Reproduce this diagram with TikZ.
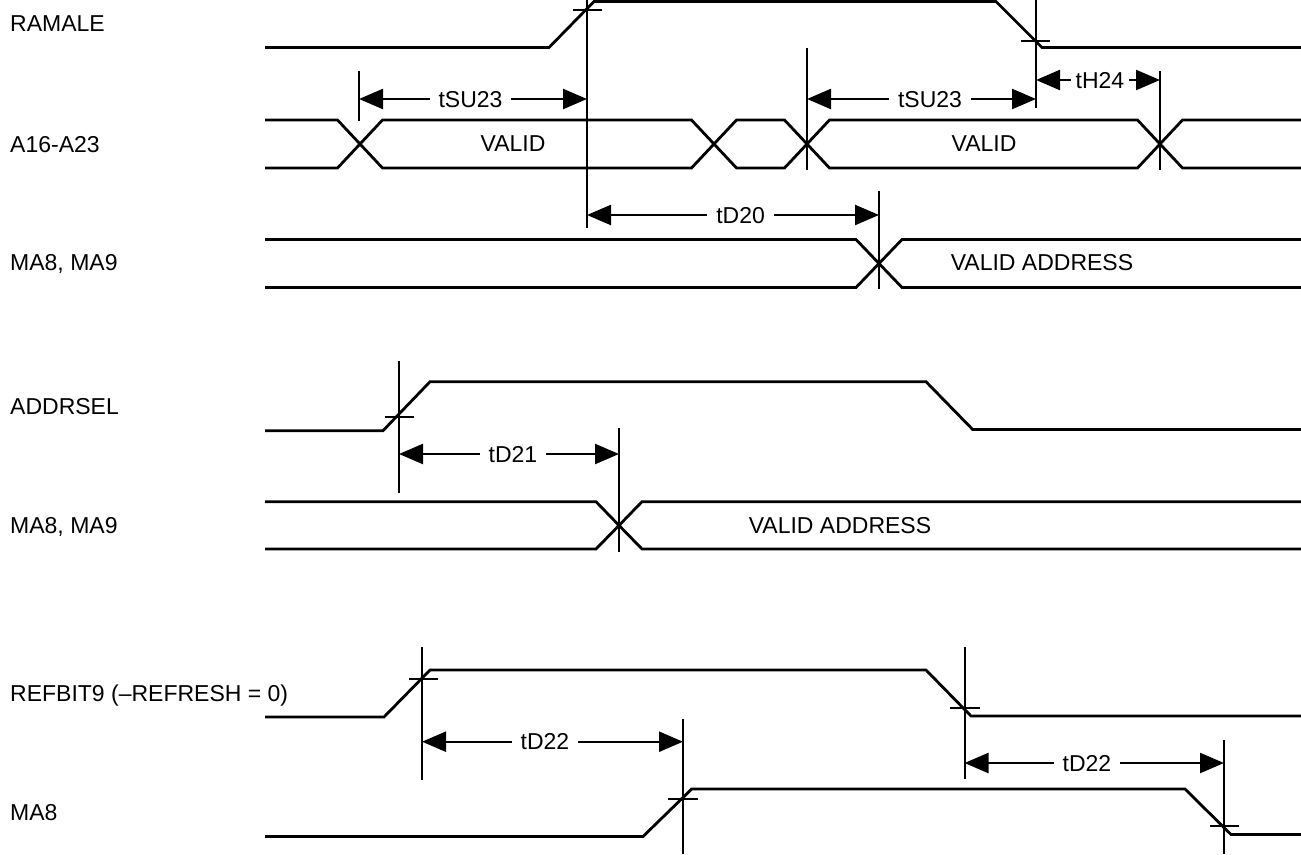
\documentclass[tikz,border=0pt]{standalone}
\usepackage{fontspec}
\setmainfont{Liberation Sans}
\usetikzlibrary{arrows.meta}
\begin{document}
\begin{tikzpicture}[x=1pt,y=-1pt,
  sig/.style={line width=2.8pt, line join=miter},
  vline/.style={line width=2pt},
  tickline/.style={line width=2pt},
  dimarr/.style={line width=2.4pt, {Triangle[length=24pt,width=20pt]}-{Triangle[length=24pt,width=20pt]}},
  lbl/.style={font=\fontsize{23}{27}\selectfont, text height=16.5pt, text depth=0pt, inner sep=0pt},
  gaplbl/.style={lbl, fill=white, inner xsep=9pt, inner ysep=3pt},
  sname/.style={lbl, anchor=west}
]
\useasboundingbox (0,0) rectangle (1301,854);

% ---- signal names
\node[sname] (nRAMALE) at (10,23.3) {RAMALE};
\node[sname] (nA16) at (10,144.5) {A16-A23};
\node[sname] (nMA1) at (10,262.5) {MA8, MA9};
\node[sname] (nADDR) at (10,406) {ADDRSEL};
\node[sname] (nMA2) at (10,525) {MA8, MA9};
\node[sname] (nREF) at (10,693) {REFBIT9 (–REFRESH = 0)};
\node[sname] (nMA8) at (10,812.5) {MA8};

% ---- RAMALE
\draw[sig] (265,47.5) -- (549,47.5) -- (594,1.5) -- (996,1.5) -- (1042,47.5) -- (1301,47.5);

% ---- A16-A23 bus (top 120, bottom 168, middle 144, half width 22.5)
\draw[sig] (265,120) -- (337.5,120) -- (360,144) -- (337.5,168) -- (265,168);
\draw[sig] (360,144) -- (382.5,120) -- (691.5,120) -- (714,144) -- (691.5,168) -- (382.5,168) -- cycle;
\draw[sig] (714,144) -- (736.5,120) -- (784.5,120) -- (807,144) -- (784.5,168) -- (736.5,168) -- cycle;
\draw[sig] (807,144) -- (829.5,120) -- (1137.5,120) -- (1160,144) -- (1137.5,168) -- (829.5,168) -- cycle;
\draw[sig] (1301,120) -- (1182.5,120) -- (1160,144) -- (1182.5,168) -- (1301,168);
\node[lbl] (tValid1) at (513,143) {VALID};
\node[lbl] (tValid2) at (984,143) {VALID};

% ---- MA8, MA9 (first)
\draw[sig] (265,239.5) -- (856,239.5) -- (879,263.5) -- (856,287.5) -- (265,287.5);
\draw[sig] (1301,239.5) -- (902,239.5) -- (879,263.5) -- (902,287.5) -- (1301,287.5);
\node[lbl] (tVA1) at (1042,262.5) {VALID ADDRESS};

% ---- ADDRSEL
\draw[sig] (265,430.7) -- (383,430.7) -- (430,381.7) -- (926,381.7) -- (972.7,429.5) -- (1301,429.5);

% ---- MA8, MA9 (second)
\draw[sig] (265,501.7) -- (596,501.7) -- (619,525.4) -- (596,549) -- (265,549);
\draw[sig] (1301,501.7) -- (642,501.7) -- (619,525.4) -- (642,549) -- (1301,549);
\node[lbl] (tVA2) at (840,525) {VALID ADDRESS};

% ---- REFBIT9
\draw[sig] (265,717) -- (384,717) -- (430,670) -- (926,670) -- (971,716) -- (1301,716);

% ---- MA8
\draw[sig] (265,836.5) -- (643,836.5) -- (691.7,789) -- (1185,789) -- (1231,834.5) -- (1301,834.5);

% ---- reference verticals
\draw[vline] (587,0) -- (587,227.7);
\draw[vline] (359,71) -- (359,121);
\draw[vline] (807,48) -- (807,170);
\draw[vline] (1036,0) -- (1036,108);
\draw[vline] (1160,71) -- (1160,170);
\draw[vline] (879,190.7) -- (879,288.5);
\draw[vline] (399,360.7) -- (399,493);
\draw[vline] (619,428) -- (619,551.7);
\draw[vline] (422,646.7) -- (422,780);
\draw[vline] (683,719) -- (683,854);
\draw[vline] (964.5,646.7) -- (964.5,779);
\draw[vline] (1224,740) -- (1224,854);

% ---- crossing ticks
\draw[tickline] (573,10) -- (602,10);
\draw[tickline] (1021,41) -- (1050,41);
\draw[tickline] (385,417) -- (414,417);
\draw[tickline] (409,679) -- (437.5,679);
\draw[tickline] (950,708) -- (980,708);
\draw[tickline] (668,799) -- (698,799);
\draw[tickline] (1210,826) -- (1238.5,826);

% ---- timing arrows
\coordinate (su1a) at (359,99);   \coordinate (su1b) at (587,99);
\coordinate (su2a) at (807,99);   \coordinate (su2b) at (1036,99);
\coordinate (h24a) at (1036,80);  \coordinate (h24b) at (1160,80);
\coordinate (d20a) at (587,215);  \coordinate (d20b) at (879,215);
\coordinate (d21a) at (399,454);  \coordinate (d21b) at (619,454);
\coordinate (d22a) at (422,741.7);\coordinate (d22b) at (683,741.7);
\coordinate (d23a) at (964.5,763);\coordinate (d23b) at (1224,763);

\draw[dimarr] (su1a) -- node[gaplbl, pos=0.489] (tSUa) {tSU23} (su1b);
\draw[dimarr] (su2a) -- node[gaplbl, pos=0.537] (tSUb) {tSU23} (su2b);
\draw[dimarr] (h24a) -- node[gaplbl, pos=0.516, inner xsep=5pt] (tH) {tH24} (h24b);
\draw[dimarr] (d20a) -- node[gaplbl, pos=0.526] (tD20) {tD20} (d20b);
\draw[dimarr] (d21a) -- node[gaplbl, pos=0.518] (tD21) {tD21} (d21b);
\draw[dimarr] (d22a) -- node[gaplbl, pos=0.471] (tD22a) {tD22} (d22b);
\draw[dimarr] (d23a) -- node[gaplbl, pos=0.472] (tD22b) {tD22} (d23b);
\end{tikzpicture}
\end{document}
